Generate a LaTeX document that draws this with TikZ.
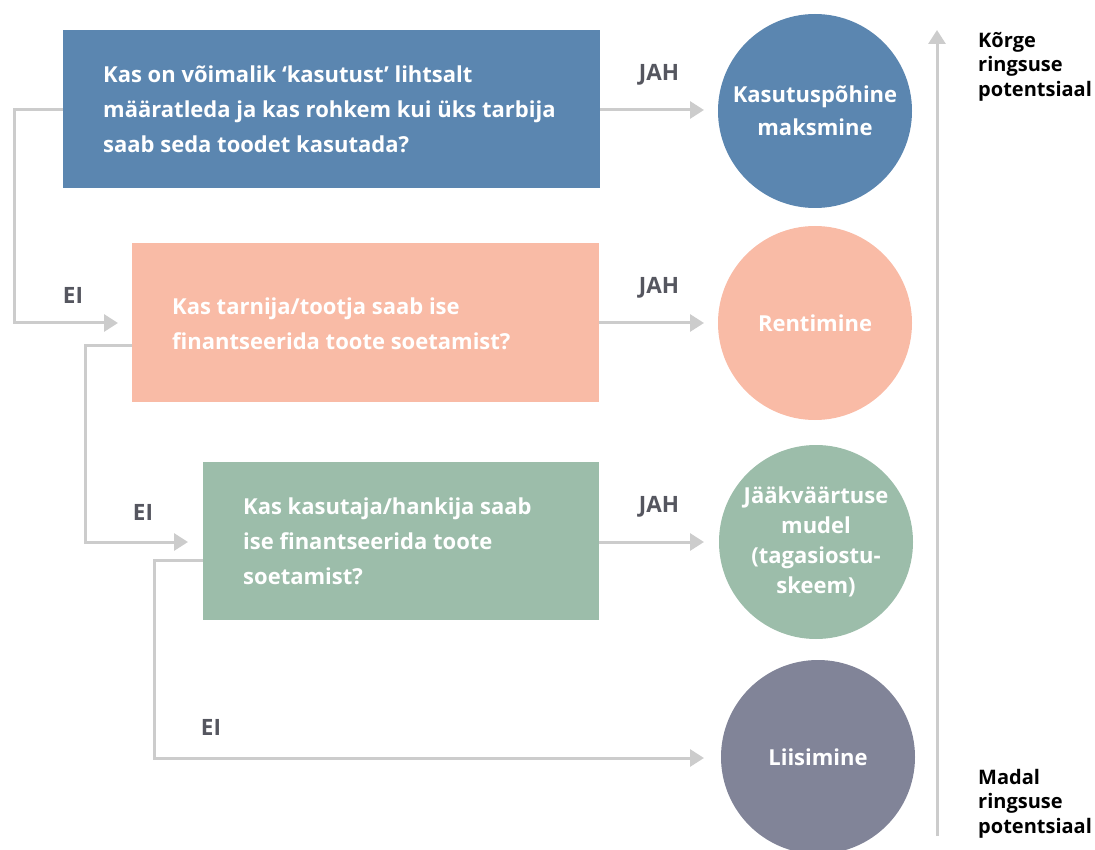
\documentclass[tikz,border=0pt]{standalone}
\usepackage{fontspec}
\setmainfont{Open Sans}
\usetikzlibrary{arrows.meta}
\definecolor{cblue}{HTML}{5B86B0}
\definecolor{csalmon}{HTML}{F9BBA6}
\definecolor{cgreen}{HTML}{9CBDAA}
\definecolor{cgrey}{HTML}{818498}
\definecolor{cline}{HTML}{CCCCCC}
\definecolor{clabel}{HTML}{55565F}
\tikzset{
  qbox/.style={rectangle, draw=none, anchor=north west, inner sep=0pt},
  qtext/.style={anchor=north west, align=left, text=white, font=\bfseries\fontsize{22}{35}\selectfont, inner sep=0pt},
  outc/.style={circle, draw=none, minimum size=194pt, inner sep=0pt, text=white, align=center, font=\bfseries\fontsize{22}{33}\selectfont},
  conn/.style={draw=cline, line width=3pt, -{Triangle[length=14pt,width=17pt]}},
  lab/.style={text=clabel, font=\bfseries\fontsize{22.5}{24}\selectfont, inner sep=0pt},
  side/.style={anchor=north west, align=left, text=black, font=\bfseries\fontsize{20}{24.5}\selectfont, inner sep=0pt},
}
\begin{document}
\begin{tikzpicture}[x=1pt,y=-1pt]
\useasboundingbox (0,0) rectangle (1095,850);
% boxes
\node[qbox, fill=cblue, minimum width=537pt, minimum height=158pt] (b1) at (63,30) {};
\node[qbox, fill=csalmon, minimum width=467pt, minimum height=159pt] (b2) at (132,243) {};
\node[qbox, fill=cgreen, minimum width=396pt, minimum height=158pt] (b3) at (203,462) {};
\node[qtext] (t1) at (103,66) {Kas on võimalik ‘kasutust’ lihtsalt\\määratleda ja kas rohkem kui üks tarbija\\saab seda toodet kasutada?};
\node[qtext] (t2) at (172,298) {Kas tarnija/tootja saab ise\\finantseerida toote soetamist?};
\node[qtext] (t3) at (243,498) {Kas kasutaja/hankija saab\\ise finantseerida toote\\soetamist?};
% circles
\node[outc, fill=cblue] (c1) at (815,111) {Kasutuspõhine\\maksmine};
\node[outc, fill=csalmon] (c2) at (815,323) {Rentimine};
\node[outc, fill=cgreen, font=\bfseries\fontsize{22}{30}\selectfont] (c3) at (816,542) {Jääkväärtuse\\mudel\\(tagasiostu-\\skeem)};
\node[outc, fill=cgrey] (c4) at (818,757) {Liisimine};
% coordinates
\coordinate (b1out) at (b1.west |- 0,110);
\coordinate (b2in) at (118,323);
\coordinate (b2out) at (b2.west |- 0,345);
\coordinate (b3in) at (188,542);
\coordinate (b3out) at (b3.west |- 0,560);
\coordinate (c1in) at (704,110);
\coordinate (c2in) at (704,323);
\coordinate (c3in) at (704,542);
\coordinate (c4in) at (704,758);
% connectors
\draw[conn] (b1.east |- c1in) -- (c1in);
\draw[conn] (b2.east |- c2in) -- (c2in);
\draw[conn] (b3.east |- c3in) -- (c3in);
\draw[conn] (b1out) -- (14,110) -- (14,323) -- (b2in);
\draw[conn] (b2out) -- (85,345) -- (85,542) -- (b3in);
\draw[conn] (b3out) -- (154,560) -- (154,758) -- (c4in);
% labels
\node[lab] (j1) at (659,75) {JAH};
\node[lab] (j2) at (659,288) {JAH};
\node[lab] (j3) at (659,507) {JAH};
\node[lab] (e1) at (73,295) {EI};
\node[lab] (e2) at (143,512) {EI};
\node[lab] (e3) at (211,727) {EI};
% potential axis
\coordinate (axb) at (937,836);
\coordinate (axt) at (937,30);
\draw[conn] (axb) -- (axt);
\node[side] (hi) at (978,32) {Kõrge\\ringsuse\\potentsiaal};
\node[side] (lo) at (978,769) {Madal\\ringsuse\\potentsiaal};
\end{tikzpicture}
\end{document}
